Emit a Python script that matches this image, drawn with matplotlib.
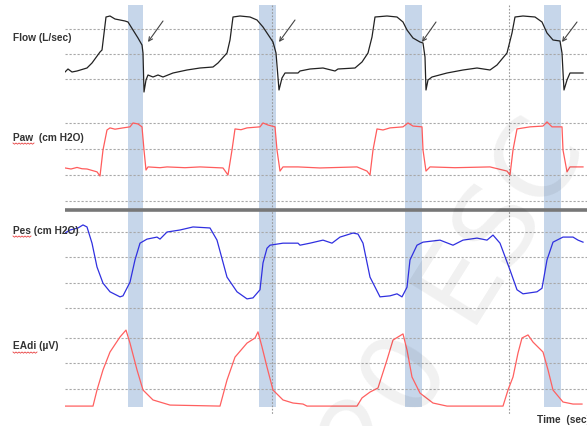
import matplotlib
matplotlib.use("Agg")
import matplotlib.pyplot as plt
import numpy as np
from matplotlib.lines import Line2D

# time base (s) and the four traces
flow_t = [0, 0.06, 0.14, 0.24, 0.44, 0.54, 0.70, 0.74, 0.82, 0.90, 1.00, 1.20, 1.26, 1.36, 1.46, 1.54, 1.56,
          1.58, 1.62, 1.66, 1.76, 1.86, 1.96, 2.16, 2.44, 2.70, 2.96, 3.06, 3.24, 3.30, 3.36, 3.50, 3.70,
          3.84, 3.96, 4.04, 4.16, 4.22, 4.28, 4.34, 4.40, 4.66, 4.70, 4.90, 5.16, 5.40, 5.46, 5.80, 5.94,
          6.06, 6.14, 6.20, 6.44, 6.64, 6.76, 6.84, 6.96, 7.10, 7.16, 7.20, 7.22, 7.26, 7.34, 7.64, 7.96,
          8.24, 8.50, 8.64, 8.84, 8.94, 9.00, 9.16, 9.40, 9.54, 9.64, 9.76, 9.90, 9.94, 9.96, 9.98, 10.04,
          10.10, 10.30, 10.36]
flow = [0.14, 0.20, 0.14, 0.16, 0.22, 0.32, 0.54, 0.58, 1.24, 1.26, 1.20, 1.16, 1.14, 0.98, 0.82, 0.68, 0.52,
        -0.26, -0.02, 0.08, 0.04, 0.08, 0.04, 0.12, 0.18, 0.22, 0.24, 0.32, 0.52, 0.78, 1.24, 1.26, 1.24,
        1.18, 1.04, 0.92, 0.74, 0.52, -0.22, 0.02, 0.12, 0.12, 0.16, 0.20, 0.22, 0.16, 0.20, 0.22, 0.34,
        0.52, 0.84, 1.24, 1.26, 1.24, 1.14, 0.98, 0.82, 0.74, 0.72, 0.44, -0.22, -0.02, 0.04, 0.12, 0.18,
        0.22, 0.18, 0.28, 0.52, 0.92, 1.24, 1.26, 1.24, 1.14, 0.92, 0.78, 0.76, 0.52, 0.14, -0.22, -0.02,
        0.12, 0.12, 0.12]

paw_t = [0, 0.12, 0.24, 0.34, 0.44, 0.64, 0.70, 0.76, 0.84, 0.90, 1.00, 1.16, 1.30, 1.36, 1.46, 1.54, 1.58,
         1.62, 1.66, 1.90, 2.04, 2.40, 2.70, 3.16, 3.26, 3.34, 3.40, 3.52, 3.64, 3.90, 3.96, 4.06, 4.20,
         4.24, 4.30, 4.36, 4.66, 5.10, 5.84, 6.04, 6.10, 6.16, 6.24, 6.36, 6.50, 6.76, 6.86, 6.96, 7.14,
         7.16, 7.22, 7.30, 7.80, 8.50, 8.84, 8.90, 8.96, 9.04, 9.30, 9.56, 9.64, 9.74, 9.94, 9.96, 10.04,
         10.10, 10.36]
paw = [12.7, 12.3, 12.9, 12.4, 12.3, 11.2, 9.6, 19.6, 27.3, 28.1, 27.6, 28.1, 28.5, 30.0, 29.6, 28.5, 19.6,
       11.9, 13.1, 12.8, 13.1, 12.8, 13.1, 12.7, 10.0, 19.6, 27.7, 27.4, 28.1, 28.5, 30.0, 29.2, 28.5,
       19.6, 11.5, 13.1, 13.1, 12.7, 13.1, 11.5, 10.0, 19.6, 27.7, 27.3, 28.1, 28.5, 30.0, 28.8, 28.5,
       19.6, 11.5, 13.1, 12.8, 13.1, 11.5, 10.0, 19.6, 27.7, 28.5, 28.8, 30.4, 28.5, 28.5, 19.6, 11.2,
       13.1, 13.1]

pes_t = [0, 0.10, 0.26, 0.36, 0.44, 0.54, 0.64, 0.76, 0.90, 1.10, 1.16, 1.30, 1.40, 1.50, 1.64, 1.84, 1.90,
         2.04, 2.30, 2.56, 2.90, 3.04, 3.24, 3.44, 3.64, 3.76, 3.90, 3.96, 4.04, 4.10, 4.36, 4.66, 4.70,
         4.90, 5.16, 5.34, 5.50, 5.76, 5.86, 5.96, 6.10, 6.30, 6.50, 6.64, 6.74, 6.84, 6.90, 7.04, 7.16,
         7.50, 7.76, 7.96, 8.24, 8.44, 8.56, 8.70, 8.90, 9.04, 9.16, 9.44, 9.54, 9.64, 9.76, 9.96, 10.16,
         10.26, 10.36]
pes = [-0.2, 0.4, 0.8, 1.4, 1.0, -2.2, -6.9, -10.1, -11.8, -12.8, -12.6, -9.9, -5.5, -2.2, -1.4, -1.0, -1.4,
       0.0, 0.4, 1.0, 0.8, -1.6, -8.9, -11.8, -13.2, -13.0, -11.4, -6.1, -3.2, -2.6, -2.2, -2.2, -2.6,
       -2.2, -1.6, -2.2, -1.0, -0.2, -0.4, -2.2, -8.9, -12.8, -12.6, -12.2, -12.8, -10.9, -5.5, -2.6, -2.0,
       -1.6, -2.6, -1.6, -1.2, -1.6, -0.6, -2.2, -7.5, -11.4, -12.2, -11.8, -11.1, -5.5, -2.0, -1.0, -1.0,
       -1.6, -2.0]

eadi_t = [0, 0.56, 0.64, 0.76, 0.90, 1.10, 1.22, 1.30, 1.44, 1.56, 1.76, 2.10, 3.10, 3.24, 3.40, 3.64, 3.80,
          3.86, 3.94, 4.04, 4.16, 4.36, 4.56, 4.76, 4.84, 5.84, 5.94, 6.10, 6.26, 6.44, 6.56, 6.76, 6.84,
          6.94, 7.10, 7.36, 7.64, 8.76, 8.86, 8.96, 9.06, 9.14, 9.26, 9.36, 9.56, 9.66, 9.76, 9.96, 10.16,
          10.34]
eadi = [3.3, 3.3, 9.6, 17.5, 24.5, 30.4, 33.1, 28.0, 17.5, 9.6, 5.7, 3.7, 3.3, 13.5, 22.5, 28.0, 30.0,
        32.4, 26.5, 18.6, 9.6, 5.7, 4.5, 4.1, 3.3, 3.3, 6.5, 8.8, 10.4, 21.4, 29.2, 31.6, 25.3,
        14.7, 8.4, 4.5, 3.3, 3.3, 9.6, 14.7, 24.1, 30.0, 31.2, 28.4, 24.5, 17.5, 9.6, 4.9, 4.1,
        4.1]

# shaded neural expiration windows and marker lines (s)
bands = [(1.26, 1.56), (3.88, 4.22), (6.80, 7.14), (9.58, 9.92)]
markers = [4.14, 8.88]
arrows = [((1.96, 1.16), (1.66, 0.74)), ((4.60, 1.18), (4.28, 0.74)),
          ((7.42, 1.14), (7.14, 0.74)), ((10.24, 1.14), (9.94, 0.74))]

W, H = 587, 426
L = 65 / W
tmax = 10.44
fig = plt.figure(figsize=(W / 100, H / 100), dpi=100)

bg = fig.add_axes([L, 0, 1 - L, 1])
bg.set_xlim(0, tmax)
bg.set_ylim(H, 0)
bg.axis('off')
for a, b in bands:
    bg.axvspan(a, b, ymin=1 - 407 / H, ymax=1 - 5 / H, color='#c6d6ea', lw=0, zorder=3)
for m in markers:
    bg.plot([m, m], [5, 414], color='#999999', lw=0.8, ls=(0, (1.5, 1.5)), zorder=4)
bg.plot([0, tmax], [210, 210], color='#777777', lw=2.6, zorder=4, solid_capstyle='butt')

grid_ls = (0, (2, 1.6))
grid_c = '#a8a8a8'


def panel(top, bottom, ylim, grids):
    ax = fig.add_axes([L, 1 - bottom / H, 1 - L, (bottom - top) / H])
    ax.set_xlim(0, tmax)
    ax.set_ylim(*ylim)
    ax.axis('off')
    ax.patch.set_alpha(0)
    for g in grids:
        ax.axhline(g, color=grid_c, lw=0.8, ls=grid_ls, zorder=1)
    return ax


ax_flow = panel(0, 100, (-0.42, 1.58), [0, 0.5, 1.0])
ax_paw = panel(105, 205, (-1.54, 36.9), [0, 10, 20, 30])
ax_pes = panel(215, 315, (-16.38, 3.36), [0, -5, -10, -15])
ax_eadi = panel(318, 418, (-1.37, 37.84), [10, 20, 30])

ax_flow.plot(flow_t, flow, color='#222222', lw=0.9, zorder=5)
ax_paw.plot(paw_t, paw, color='#ff5c5c', lw=0.9, zorder=5)
ax_pes.plot(pes_t, pes, color='#3030e0', lw=0.9, zorder=5)
ax_eadi.plot(eadi_t, eadi, color='#ff6060', lw=0.9, zorder=5)

for tail, head in arrows:
    ax_flow.annotate('', xy=head, xytext=tail,
                     arrowprops=dict(arrowstyle='->', color='#444444', lw=0.8,
                                     mutation_scale=7, shrinkA=0, shrinkB=0),
                     zorder=6)

# labels
lab = dict(fontsize=7.3, fontweight='bold', color='#333333', family='Liberation Sans', va='center')
fig.text(13 / W, 1 - 38 / H, 'Flow (L/sec)', **lab)
fig.text(13 / W, 1 - 138 / H, 'Paw  (cm H2O)', **lab)
fig.text(13 / W, 1 - 231 / H, 'Pes (cm H2O)', **lab)
fig.text(13 / W, 1 - 346 / H, 'EAdi (µV)', **lab)
fig.text(537 / W, 1 - 420 / H, 'Time  (sec)', **lab)

# spell-check squiggles
for x0, x1, y in [(13, 34, 143), (13, 31, 236), (13, 37, 352)]:
    xs = np.arange(x0, x1 + 1, 1.5)
    ys = y + np.where(np.arange(len(xs)) % 2 == 0, 0, 1.2)
    fig.add_artist(Line2D(xs / W, 1 - ys / H, color='#e84040', lw=0.6, transform=fig.transFigure))

# faint watermark
fig.text(420 / W, 1 - 360 / H, '2020 ESC', fontsize=80, color='#000000', alpha=0.06,
         rotation=58, ha='center', va='center', rotation_mode='anchor', zorder=10)

fig.savefig('out.png', dpi=100)
